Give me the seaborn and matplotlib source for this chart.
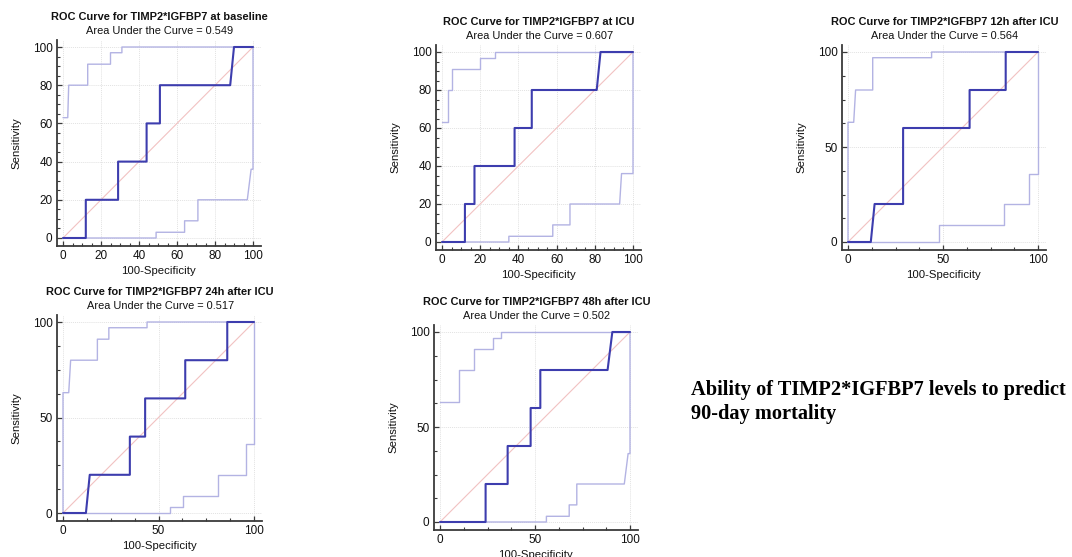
import matplotlib
matplotlib.use("Agg")
import matplotlib.pyplot as plt
import seaborn as sns
from matplotlib.ticker import MultipleLocator

sns.set_theme(style="white")
plt.rcParams["font.family"] = ["Liberation Sans", "DejaVu Sans"]

# ---- ROC data (100-Specificity, Sensitivity), in percent ----
titles = [
    "ROC Curve for TIMP2*IGFBP7 at baseline",
    "ROC Curve for TIMP2*IGFBP7 at ICU",
    "ROC Curve for TIMP2*IGFBP7 12h after ICU",
    "ROC Curve for TIMP2*IGFBP7 24h after ICU",
    "ROC Curve for TIMP2*IGFBP7 48h after ICU",
]
auc_values = [0.549, 0.607, 0.564, 0.517, 0.502]

baseline_roc_x = [0, 12, 12, 29, 29, 44, 44, 51, 51, 88, 90, 100]
baseline_roc_y = [0, 0, 20, 20, 40, 40, 60, 60, 80, 80, 100, 100]
baseline_up_x = [0, 2.5, 3, 13, 13, 25, 25, 31, 31, 100]
baseline_up_y = [63, 63, 80, 80, 91, 91, 97, 97, 100, 100]
baseline_lo_x = [0, 49, 49, 64, 64, 71, 71, 97, 99, 100, 100]
baseline_lo_y = [0, 0, 3, 3, 9, 9, 20, 20, 36, 36, 100]

icu_roc_x = [0, 12, 12, 17, 17, 38, 38, 47, 47, 81, 83, 100]
icu_roc_y = [0, 0, 20, 20, 40, 40, 60, 60, 80, 80, 100, 100]
icu_up_x = [0, 3, 3, 5, 5, 20, 20, 28, 28, 100]
icu_up_y = [63, 63, 80, 80, 91, 91, 97, 97, 100, 100]
icu_lo_x = [0, 35, 35, 58, 58, 67, 67, 93, 94, 100, 100]
icu_lo_y = [0, 0, 3, 3, 9, 9, 20, 20, 36, 36, 100]

h12_roc_x = [0, 12, 14, 29, 29, 64, 64, 83, 83, 100]
h12_roc_y = [0, 0, 20, 20, 60, 60, 80, 80, 100, 100]
h12_up_x = [0, 0, 3, 4, 13, 13, 44, 44, 100]
h12_up_y = [0, 63, 63, 80, 80, 97, 97, 100, 100]
h12_lo_x = [0, 48, 48, 82, 82, 95, 95, 100, 100]
h12_lo_y = [0, 0, 9, 9, 20, 20, 36, 36, 100]

h24_roc_x = [0, 12, 14, 35, 35, 43, 43, 64, 64, 86, 86, 100]
h24_roc_y = [0, 0, 20, 20, 40, 40, 60, 60, 80, 80, 100, 100]
h24_up_x = [0, 0, 3, 4, 18, 18, 24, 24, 44, 44, 100]
h24_up_y = [0, 63, 63, 80, 80, 91, 91, 97, 97, 100, 100]
h24_lo_x = [0, 56, 56, 63, 63, 81, 81, 96, 96, 100, 100]
h24_lo_y = [0, 0, 3, 3, 9, 9, 20, 20, 36, 36, 100]

h48_roc_x = [0, 24, 24, 35.6, 35.6, 47.7, 47.7, 52.8, 52.8, 88.2, 90.7, 100]
h48_roc_y = [0, 0, 20, 20, 40, 40, 60, 60, 80, 80, 100, 100]
h48_up_x = [0, 10, 10, 18, 18, 28, 28, 32, 32, 100]
h48_up_y = [63, 63, 80, 80, 91, 91, 97, 97, 100, 100]
h48_lo_x = [0, 56, 56, 68, 68, 72, 72, 97, 99, 100, 100]
h48_lo_y = [0, 0, 3, 3, 9, 9, 20, 20, 36, 36, 100]

curves = [
    (baseline_roc_x, baseline_roc_y, baseline_up_x, baseline_up_y, baseline_lo_x, baseline_lo_y),
    (icu_roc_x, icu_roc_y, icu_up_x, icu_up_y, icu_lo_x, icu_lo_y),
    (h12_roc_x, h12_roc_y, h12_up_x, h12_up_y, h12_lo_x, h12_lo_y),
    (h24_roc_x, h24_roc_y, h24_up_x, h24_up_y, h24_lo_x, h24_lo_y),
    (h48_roc_x, h48_roc_y, h48_up_x, h48_up_y, h48_lo_x, h48_lo_y),
]
major_steps = [20, 20, 50, 50, 50]

# ---- layout: pixel positions of data 0 and 100 on each axis ----
W, H = 1072, 557
frames = [
    (63, 253, 238, 47),
    (442, 633, 242, 52),
    (848, 1038, 242, 52),
    (63, 254, 513, 322),
    (440, 630, 522, 332),
]
XLIM = (-3.3, 104)
YLIM = (-4.2, 103.7)

ROC_COLOR = "#3d3dae"
CI_COLOR = "#b3b3e3"
DIAG_COLOR = "#f2c2c2"
AXIS_COLOR = "#3a3a3a"

fig = plt.figure(figsize=(W / 100, H / 100), dpi=100)
fig.patch.set_facecolor("white")

for title, auc, (rx, ry, ux, uy, lx, ly), step, (x0, x100, y0, y100) in zip(
        titles, auc_values, curves, major_steps, frames):
    ppx = (x100 - x0) / 100.0
    ppy = (y0 - y100) / 100.0
    left = x0 + XLIM[0] * ppx
    right = x0 + XLIM[1] * ppx
    bottom = y0 - YLIM[0] * ppy
    top = y0 - YLIM[1] * ppy
    ax = fig.add_axes([left / W, 1 - bottom / H, (right - left) / W, (bottom - top) / H])
    ax.set_facecolor("white")

    ax.set_xlim(*XLIM)
    ax.set_ylim(*YLIM)
    ax.xaxis.set_major_locator(MultipleLocator(step))
    ax.yaxis.set_major_locator(MultipleLocator(step))
    ax.xaxis.set_minor_locator(MultipleLocator(step / 4))
    ax.yaxis.set_minor_locator(MultipleLocator(step / 4))
    ax.grid(True, which="major", color="#e2e2e2", linestyle=(0, (1, 1)), linewidth=0.7)
    ax.set_axisbelow(True)

    # reference diagonal
    sns.lineplot(x=[0, 100], y=[0, 100], ax=ax, color=DIAG_COLOR, linewidth=0.8)
    # confidence bounds
    sns.lineplot(x=ux, y=uy, ax=ax, sort=False, estimator=None,
                 color=CI_COLOR, linewidth=1.0)
    sns.lineplot(x=lx, y=ly, ax=ax, sort=False, estimator=None,
                 color=CI_COLOR, linewidth=1.0)
    # ROC curve
    sns.lineplot(x=rx, y=ry, ax=ax, sort=False, estimator=None,
                 color=ROC_COLOR, linewidth=1.5)

    for side in ("top", "right"):
        ax.spines[side].set_visible(False)
    for side in ("left", "bottom"):
        ax.spines[side].set_color(AXIS_COLOR)
        ax.spines[side].set_linewidth(1.3)
    ax.tick_params(which="major", direction="in", length=3.8, width=0.9,
                   color=AXIS_COLOR, labelsize=8.5, labelcolor="#111111", pad=3)
    ax.tick_params(which="minor", direction="in", length=2.2, width=0.8,
                   color=AXIS_COLOR)
    ax.tick_params(axis="both", which="both", bottom=True, left=True)

    ax.set_xlabel("100-Specificity", fontsize=8.2, color="#111111", labelpad=3)
    ax.set_ylabel("Sensitivity", fontsize=8.2, color="#111111", labelpad=8)

    cx = (left + right) / 2 / W
    fig.text(cx + 1 / W, 1 - (top - 23) / H, title, ha="center", va="center",
             fontsize=7.9, fontweight="bold", color="#111111")
    fig.text(cx + 1 / W, 1 - (top - 9) / H, f"Area Under the Curve = {auc:.3f}",
             ha="center", va="center", fontsize=7.9, color="#111111")

caption_font = dict(family=["Liberation Serif", "DejaVu Serif"], fontweight="bold",
                    fontsize=14.7, color="black", ha="left", va="center")
fig.text(691 / W, 1 - 390 / H, "Ability of TIMP2*IGFBP7 levels to predict", **caption_font)
fig.text(691 / W, 1 - 414 / H, "90-day mortality", **caption_font)

fig.savefig("out.png", dpi=100, facecolor="white")
